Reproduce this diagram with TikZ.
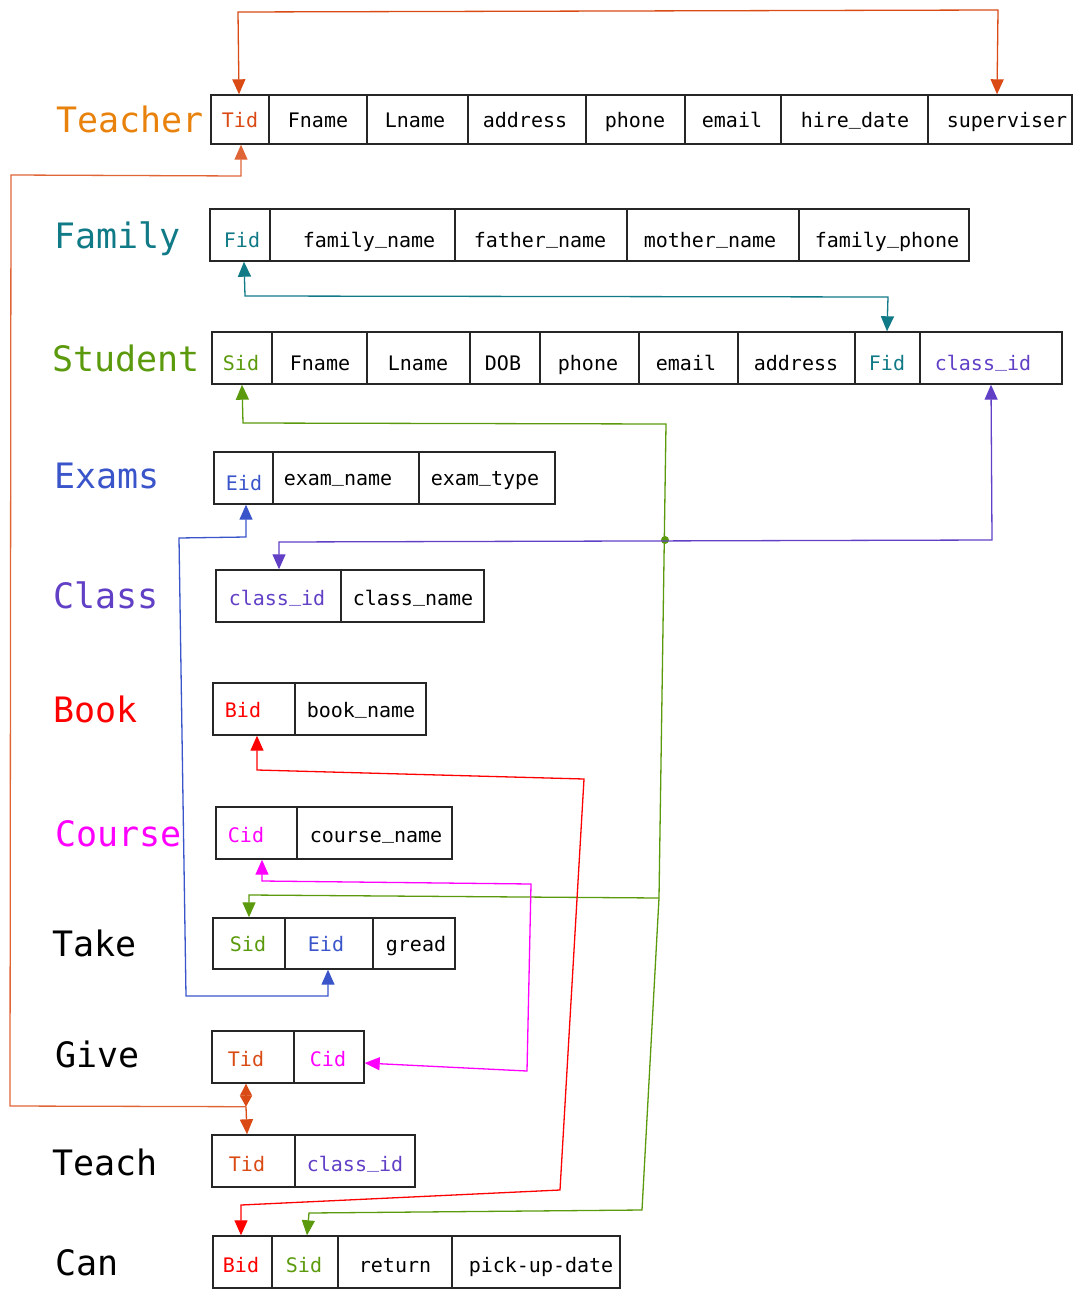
\documentclass[tikz,border=0pt]{standalone}
\usepackage{fontspec}
\setmainfont{DejaVu Sans Mono}
\newfontfamily\monofnt{DejaVu Sans Mono}
\usetikzlibrary{arrows.meta,calc}
\newcommand\fldfont{\monofnt\fontsize{20}{24}\selectfont}
\newcommand\ttlfont{\monofnt\fontsize{35}{40}\selectfont}
\newcommand\us{\raisebox{0.17em}{\_}}
\definecolor{cOrange}{HTML}{E8820C}
\definecolor{cTid}{HTML}{D94A14}
\definecolor{cTeal}{HTML}{117A87}
\definecolor{cGreen}{HTML}{5B9A0C}
\definecolor{cBlue}{HTML}{3A55C9}
\definecolor{cPurple}{HTML}{6140C6}
\definecolor{cRed}{HTML}{FF0000}
\definecolor{cMag}{HTML}{FF00FF}
\tikzset{
  tbl/.style={draw=black!85, line width=1.4pt, inner sep=0pt, rectangle},
  div/.style={draw=black!85, line width=1.4pt},
  fld/.style={anchor=base, inner sep=0pt, font=\fldfont},
  ttl/.style={anchor=base west, inner sep=0pt, font=\ttlfont},
  conn/.style={line width=1.3pt},
}
\begin{document}
\begin{tikzpicture}[x=1pt,y=-1pt,>={Triangle[length=15pt,width=13pt]}]
\useasboundingbox (0,0) rectangle (1081,1300);

% ---------- titles ----------
\node[ttl, text=cOrange] (lteacher) at (56,133) {Teacher};
\node[ttl, text=cTeal] (lfamily) at (54,248) {Family};
\node[ttl, text=cGreen] (lstudent) at (52,371) {Student};
\node[ttl, text=cBlue] (lexams) at (54,488) {Exams};
\node[ttl, text=cPurple] (lclass) at (53,608) {Class};
\node[ttl, text=cRed] (lbook) at (53,722) {Book};
\node[ttl, text=cMag] (lcourse) at (55,846) {Course};
\node[ttl] (ltake) at (52,956) {Take};
\node[ttl] (lgive) at (55,1067) {Give};
\node[ttl] (lteach) at (52,1175) {Teach};
\node[ttl] (lcan) at (55,1275) {Can};

% ---------- Teacher ----------
\node[tbl, minimum width=861pt, minimum height=49pt] (teacher) at (641.5,119.5) {};
\foreach \x in {269,367,468,586,685,781,928} \draw[div] (\x,95) -- (\x,144);
\node[fld, text=cTid] (t-tid) at (240,128) {Tid};
\node[fld] (t-fn) at (318,128) {Fname};
\node[fld] (t-ln) at (415,128) {Lname};
\node[fld] (t-ad) at (525,128) {address};
\node[fld] (t-ph) at (635,128) {phone};
\node[fld] (t-em) at (732,128) {email};
\node[fld] (t-hd) at (855,128) {hire\us date};
\node[fld] (t-sup) at (1007,128) {superviser};

% ---------- Family ----------
\node[tbl, minimum width=759pt, minimum height=52pt] (family) at (589.5,235) {};
\foreach \x in {270,455,627,799} \draw[div] (\x,209) -- (\x,261);
\node[fld, text=cTeal] (f-fid) at (242,247) {Fid};
\node[fld] (f-fam) at (369,247) {family\us name};
\node[fld] (f-fat) at (540,247) {father\us name};
\node[fld] (f-mot) at (710,247) {mother\us name};
\node[fld] (f-ph) at (887,247) {family\us phone};

% ---------- Student ----------
\node[tbl, minimum width=850pt, minimum height=52pt] (student) at (637,358) {};
\foreach \x in {272,367,470,540,639,738,855,920} \draw[div] (\x,332) -- (\x,384);
\node[fld, text=cGreen] (s-sid) at (241,370) {Sid};
\node[fld] (s-fn) at (320,370) {Fname};
\node[fld] (s-ln) at (418,370) {Lname};
\node[fld] (s-dob) at (503,370) {DOB};
\node[fld] (s-ph) at (588,370) {phone};
\node[fld] (s-em) at (686,370) {email};
\node[fld] (s-ad) at (796,370) {address};
\node[fld, text=cTeal] (s-fid) at (887,370) {Fid};
\node[fld, text=cPurple] (s-cls) at (983,370) {class\us id};

% ---------- Exams ----------
\node[tbl, minimum width=341pt, minimum height=52pt] (exams) at (384.5,478) {};
\foreach \x in {273,419} \draw[div] (\x,452) -- (\x,504);
\node[fld, text=cBlue] (e-eid) at (244,490) {Eid};
\node[fld] (e-name) at (338,485) {exam\us name};
\node[fld] (e-type) at (485,485) {exam\us type};

% ---------- Class ----------
\node[tbl, minimum width=268pt, minimum height=52pt] (class) at (350,596) {};
\draw[div] (341,570) -- (341,622);
\node[fld, text=cPurple] (cl-id) at (277,605) {class\us id};
\node[fld] (cl-name) at (413,605) {class\us name};

% ---------- Book ----------
\node[tbl, minimum width=213pt, minimum height=52pt] (book) at (319.5,709) {};
\draw[div] (295,683) -- (295,735);
\node[fld, text=cRed] (b-bid) at (243,717) {Bid};
\node[fld] (b-name) at (361,717) {book\us name};

% ---------- Course ----------
\node[tbl, minimum width=236pt, minimum height=52pt] (course) at (334,833) {};
\draw[div] (297,807) -- (297,859);
\node[fld, text=cMag] (co-cid) at (246,842) {Cid};
\node[fld] (co-name) at (376,842) {course\us name};

% ---------- Take ----------
\node[tbl, minimum width=242pt, minimum height=51pt] (take) at (334,943.5) {};
\foreach \x in {285,373} \draw[div] (\x,918) -- (\x,969);
\node[fld, text=cGreen] (k-sid) at (248,951) {Sid};
\node[fld, text=cBlue] (k-eid) at (326,951) {Eid};
\node[fld] (k-gr) at (416,951) {gread};

% ---------- Give ----------
\node[tbl, minimum width=152pt, minimum height=52pt] (give) at (288,1057) {};
\draw[div] (294,1031) -- (294,1083);
\node[fld, text=cTid] (g-tid) at (246,1066) {Tid};
\node[fld, text=cMag] (g-cid) at (328,1066) {Cid};

% ---------- Teach ----------
\node[tbl, minimum width=203pt, minimum height=52pt] (teach) at (313.5,1161) {};
\draw[div] (295,1135) -- (295,1187);
\node[fld, text=cTid] (te-tid) at (247,1171) {Tid};
\node[fld, text=cPurple] (te-cls) at (355,1171) {class\us id};

% ---------- Can ----------
\node[tbl, minimum width=407pt, minimum height=52pt] (can) at (416.5,1262) {};
\foreach \x in {272,338,452} \draw[div] (\x,1236) -- (\x,1288);
\node[fld, text=cRed] (c-bid) at (241,1272) {Bid};
\node[fld, text=cGreen] (c-sid) at (304,1272) {Sid};
\node[fld] (c-ret) at (395,1272) {return};
\node[fld] (c-pick) at (541,1272) {pick-up-date};

% ---------- connectors ----------
% supervisor -> Tid
\draw[conn, draw=cTid, <->] ($(teacher.north -| t-sup)+(-10,0)$) -- (998,10) -- (238,12) -- ($(teacher.north -| t-tid)+(-1,0)$);

% Give/Teach Tid -> Teacher Tid
\coordinate (gjunc) at ($(give.south -| g-tid)+(0,23)$);
\draw[conn, draw=cTid, {Triangle[length=12pt,width=12pt]}-{Triangle[length=11pt,width=12pt]}] (give.south -| g-tid) -- (gjunc);
\draw[conn, draw=cTid, ->] (gjunc) -- ($(teach.north -| te-tid)$);
\draw[conn, draw=cTid!85!white, ->] (gjunc) -- (10,1106) -- (11,175) -- (241,176) -- ($(teacher.south -| t-tid)+(1,0)$);

% Family Fid <-> Student Fid
\draw[conn, draw=cTeal, <->] ($(family.south -| f-fid)+(2,0)$) -- (245,296) -- (888,297) -- (student.north -| s-fid);

% Student Sid -> Take Sid, Can Sid
\coordinate (gbranch) at (659,898);
\draw[conn, draw=cGreen, <->] ($(student.south -| s-sid)+(1,0)$) -- (243,423) -- (666,424) -- (gbranch) -- (642,1210) -- (309,1213) -- ($(can.north -| c-sid)+(3,0)$);
\draw[conn, draw=cGreen, ->] (gbranch) -- (249,895) -- ($(take.north -| k-sid)+(1,0)$);
\fill[cGreen] (665,540) circle (4);

% Book Bid <-> Can Bid
\draw[conn, draw=cRed, <->] ($(book.south -| b-bid)+(14,0)$) -- (257,770) -- (584,779) -- (560,1190) -- (241,1205) -- (can.north -| c-bid);

% Student class_id <-> Class class_id
\draw[conn, draw=cPurple, <->] ($(student.south -| s-cls)+(8,0)$) -- (992,540) -- (279,542) -- ($(class.north -| cl-id)+(2,0)$);

% Exams Eid <-> Take Eid
\draw[conn, draw=cBlue, <->] ($(exams.south -| e-eid)+(2,0)$) -- (246,537) -- (179,538) -- (186,996) -- (328,996) -- ($(take.south -| k-eid)+(2,0)$);

% Course Cid <-> Give Cid
\draw[conn, draw=cMag, <->] ($(course.south -| co-cid)+(16,0)$) -- (262,881) -- (531,884) -- (527,1071) -- ($(give.east)+(0,6)$);

\end{tikzpicture}
\end{document}
